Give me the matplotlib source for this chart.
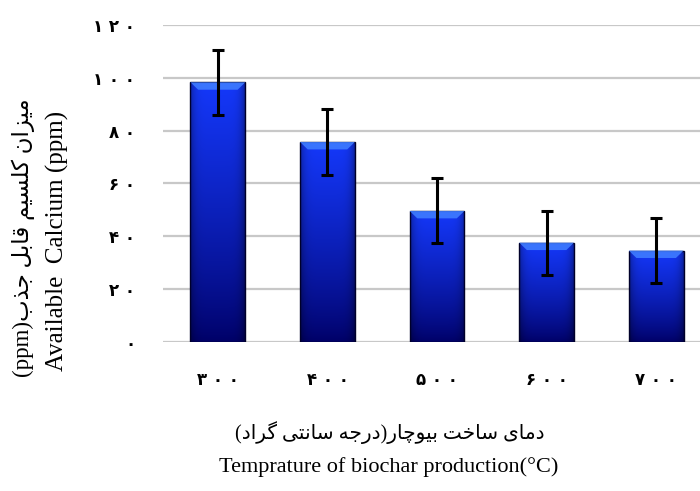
import numpy as np
import matplotlib
matplotlib.use("Agg")
import matplotlib.pyplot as plt
from matplotlib.patches import Rectangle, Polygon

# available calcium by pyrolysis temperature
temps = ["300", "400", "500", "600", "700"]
calcium = [98.3, 75.7, 49.6, 37.6, 34.6]
calcium_err = [12.3, 12.4, 12.3, 12.1, 12.2]
y_ticks = [0, 20, 40, 60, 80, 100, 120]

ylabel_fa = "میزان کلسیم قابل جذب"
ylabel_en = "Available  Calcium (ppm)"
xlabel_fa = "دمای ساخت بیوچار(درجه سانتی گراد)"
xlabel_en = "Temprature of biochar production(°C)"

# --- minimal Persian shaping (matplotlib has no complex text layout) ---
FORMS = {
    'ا': (0xFE8D, 0xFE8E), 'د': (0xFEA9, 0xFEAA), 'ذ': (0xFEAB, 0xFEAC),
    'ر': (0xFEAD, 0xFEAE), 'ز': (0xFEAF, 0xFEB0), 'و': (0xFEED, 0xFEEE),
    'ب': (0xFE8F, 0xFE90, 0xFE91, 0xFE92), 'ت': (0xFE95, 0xFE96, 0xFE97, 0xFE98),
    'ج': (0xFE9D, 0xFE9E, 0xFE9F, 0xFEA0), 'خ': (0xFEA5, 0xFEA6, 0xFEA7, 0xFEA8),
    'س': (0xFEB1, 0xFEB2, 0xFEB3, 0xFEB4), 'ق': (0xFED5, 0xFED6, 0xFED7, 0xFED8),
    'ل': (0xFEDD, 0xFEDE, 0xFEDF, 0xFEE0), 'م': (0xFEE1, 0xFEE2, 0xFEE3, 0xFEE4),
    'ن': (0xFEE5, 0xFEE6, 0xFEE7, 0xFEE8), 'ه': (0xFEE9, 0xFEEA, 0xFEEB, 0xFEEC),
    'ک': (0xFB8E, 0xFB8F, 0xFB90, 0xFB91), 'گ': (0xFB92, 0xFB93, 0xFB94, 0xFB95),
    'چ': (0xFB7A, 0xFB7B, 0xFB7C, 0xFB7D), 'ی': (0xFBFC, 0xFBFD, 0xFBFE, 0xFBFF),
}
MIRROR = {'(': ')', ')': '('}


def fa(text):
    out = []
    for i, ch in enumerate(text):
        if ch not in FORMS:
            out.append(MIRROR.get(ch, ch))
            continue
        prev = text[i - 1] if i > 0 else ''
        nxt = text[i + 1] if i + 1 < len(text) else ''
        joins_prev = prev in FORMS and len(FORMS[prev]) == 4
        joins_next = nxt in FORMS and len(FORMS[ch]) == 4
        f = FORMS[ch]
        if joins_prev and joins_next:
            out.append(chr(f[3]))
        elif joins_prev:
            out.append(chr(f[1]))
        elif joins_next:
            out.append(chr(f[2]))
        else:
            out.append(chr(f[0]))
    return ''.join(reversed(out))


def fa_digits(s):
    # Persian digits, spread out a little
    return ' '.join(s.translate(str.maketrans("0123456789", "۰۱۲۳۴۵۶۷۸۹")))


serif_fa = ['Liberation Serif', 'DejaVu Sans']

fig = plt.figure(figsize=(7, 4.91), dpi=100)
ax = fig.add_axes([0.233, 0.3035, 0.767, 0.6456])

x = np.arange(len(temps))
width = 0.5

ax.set_xlim(-0.5, 4.4)
ax.set_ylim(0, 120)

# blue gradient image used for every bar: bright on top, navy at bottom,
# slightly darker towards the side edges
ny, nx = 200, 60
t = np.linspace(0, 1, ny)[:, None]
u = np.linspace(-1, 1, nx)[None, :]
top = np.array([0.08, 0.22, 0.98])
bottom = np.array([0.0, 0.0, 0.40])
shade = 1 - 0.35 * np.abs(u) ** 6
grad = (bottom[None, None, :] + (top - bottom)[None, None, :] * t[..., None] ** 0.8)
grad = grad * shade[..., None]
grad = np.clip(grad, 0, 1)

for xi, v in zip(x, calcium):
    x0, x1 = xi - width / 2, xi + width / 2
    rect = Rectangle((x0, 0), width, v, facecolor='none',
                     edgecolor='#00002a', lw=1.0, zorder=3)
    ax.add_patch(rect)
    im = ax.imshow(grad, extent=[x0, x1, 0, v], origin='lower',
                   aspect='auto', zorder=2, interpolation='bilinear')
    im.set_clip_path(rect)
    # bevel highlight on the top face
    dx, dy = 0.07, 2.8
    bevel = Polygon([(x0, v), (x1, v), (x1 - dx, v - dy), (x0 + dx, v - dy)],
                    closed=True, facecolor='#3f7cff', edgecolor='none',
                    alpha=0.9, zorder=3)
    ax.add_patch(bevel)

ax.errorbar(x, calcium, yerr=calcium_err, fmt='none', ecolor='black',
            elinewidth=2.2, capsize=4.5, capthick=2.2, zorder=5)

ax.set_yticks(y_ticks)
ax.set_yticklabels([fa_digits(str(v)) for v in y_ticks], fontweight='bold',
                   fontsize=12, family='DejaVu Sans')
ax.set_xticks(x)
ax.set_xticklabels([fa_digits(s) for s in temps], fontweight='bold',
                   fontsize=12, family='DejaVu Sans')
ax.tick_params(axis='y', length=0, pad=20)
ax.tick_params(axis='x', length=0, pad=21)

ax.yaxis.grid(True, color='#c8c8c8', lw=1.6)
ax.set_axisbelow(True)
for s in ax.spines.values():
    s.set_visible(False)

# two-line axis titles: Persian above English
fig.text(0.557, 0.120, fa(xlabel_fa), ha='center', va='center',
         fontsize=14.5, family=serif_fa)
fig.text(0.555, 0.049, xlabel_en, ha='center', va='center',
         fontsize=16, family='Liberation Serif')
fig.text(0.033, 0.515, '(ppm)' + fa(ylabel_fa), ha='center', va='center',
         rotation=90, fontsize=16.5, family=serif_fa)
fig.text(0.082, 0.51, ylabel_en, ha='center', va='center', rotation=90,
         fontsize=18, family='Liberation Serif')

fig.savefig('out.png', dpi=100)
